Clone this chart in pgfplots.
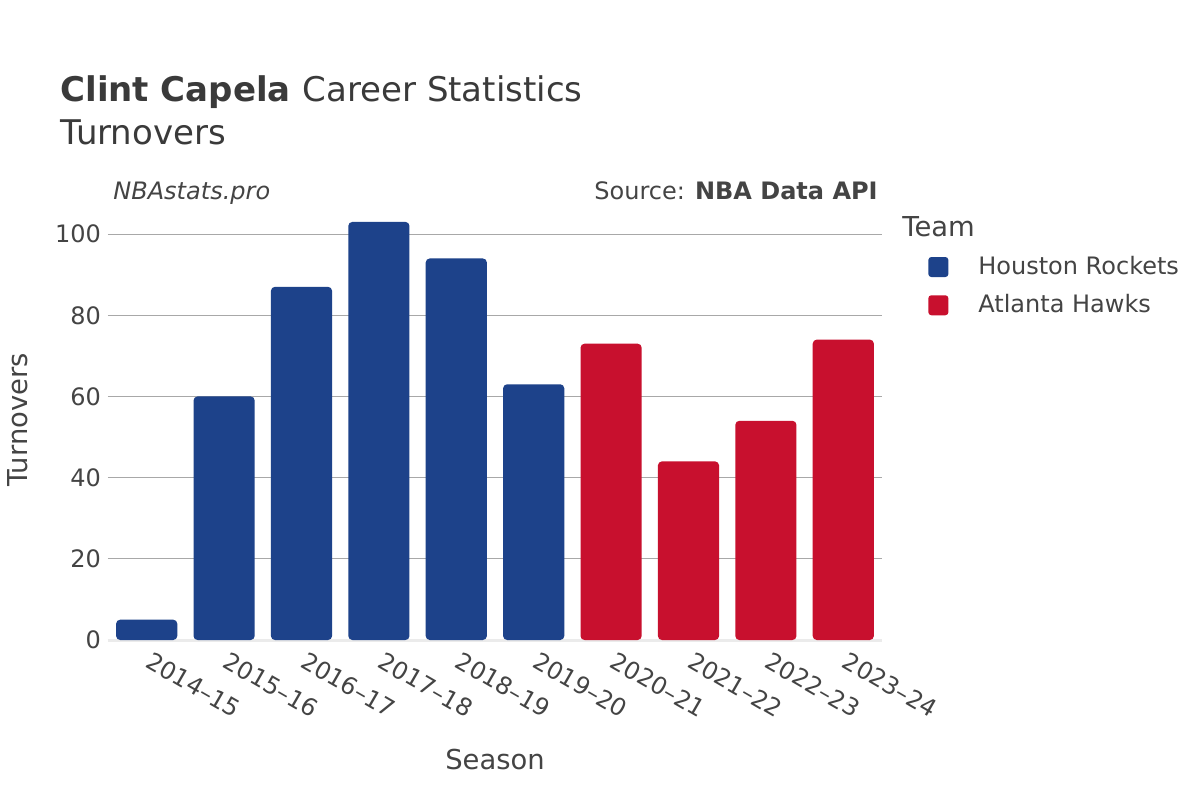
\documentclass[border=0pt]{standalone}
\usepackage{pgfplots}
\pgfplotsset{compat=1.18}
\usepackage{fontspec}
\setmainfont{DejaVu Sans}
\definecolor{hou}{HTML}{1D428A}
\definecolor{atl}{HTML}{C8102E}
\definecolor{txt}{HTML}{444444}
\definecolor{ttl}{HTML}{3A3A3A}
\definecolor{gridc}{HTML}{A8A8A8}
\definecolor{zeroc}{HTML}{EBEBEB}
\newcommand{\tickfont}{\fontsize{12}{14}\selectfont}
\newcommand{\labfont}{\fontsize{13.7}{16}\selectfont}
\begin{document}
\begin{tikzpicture}[x=1pt,y=1pt]
\fill[white] (0,0) rectangle (600,400);
\begin{axis}[
  at={(54pt,80pt)}, anchor=south west,
  scale only axis, width=387pt, height=220pt,
  xmin=-0.5, xmax=9.5, ymin=0, ymax=108.4,
  /pgf/number format/assume math mode=true,
  axis line style={draw=none}, tick style={draw=none},
  ytick={20,40,60,80,100},
  extra y ticks={0},
  extra y tick style={grid style={color=zeroc, line width=1.5pt}},
  ymajorgrids, grid style={color=gridc, line width=0.5pt},
  xtick={0,...,9},
  xticklabels={2014--15,2015--16,2016--17,2017--18,2018--19,2019--20,2020--21,2021--22,2022--23,2023--24},
  x tick label style={rotate=-30, anchor=north west, font=\tickfont, text=txt, xshift=0pt, yshift=4pt},
  y tick label style={font=\tickfont, text=txt},
  ylabel={Turnovers}, xlabel={Season},
  every axis y label/.append style={at={(axis description cs:-0.1163,0.5)}, anchor=center, font=\labfont, text=txt},
  every axis x label/.append style={at={(axis description cs:0.5,-0.2727)}, anchor=center, font=\labfont, text=txt},
  ybar, bar width=0.79, bar shift=0pt,
  legend style={at={(rel axis cs:1.0594,0.8818)}, anchor=north west, draw=none, fill=none,
    font=\tickfont, text=txt, row sep=4.5pt, inner sep=0pt,
    /tikz/every even column/.append style={column sep=0pt}},
  legend cell align=left,
  legend image code/.code={\fill[rounded corners=1.5pt] (0pt,-5pt) rectangle (10pt,5pt); \path (23pt,0pt);},
]
\addplot[fill=hou, draw=none, rounded corners=2pt] coordinates {(0,5) (1,60) (2,87) (3,103) (4,94) (5,63)};
\addlegendentry{Houston Rockets}
\addplot[fill=atl, draw=none, rounded corners=2pt] coordinates {(6,73) (7,44) (8,54) (9,74)};
\addlegendentry{Atlanta Hawks}
\end{axis}
\node[anchor=base west, text=ttl, inner sep=0pt] at (30,349) {\fontsize{17}{21}\selectfont\bfseries Clint Capela \mdseries Career Statistics};
\node[anchor=base west, text=ttl, inner sep=0pt] at (30,327.5) {\fontsize{17}{21}\selectfont Turnovers};
\node[anchor=base west, text=txt, inner sep=0pt] at (56.5,300.5) {\tickfont\itshape NBAstats.pro};
\node[anchor=base east, text=txt, inner sep=0pt] at (439,300.5) {\tickfont Source: \bfseries NBA Data API};
\node[anchor=base west, text=txt, inner sep=0pt] at (451,282) {\labfont Team};
\end{tikzpicture}
\end{document}
